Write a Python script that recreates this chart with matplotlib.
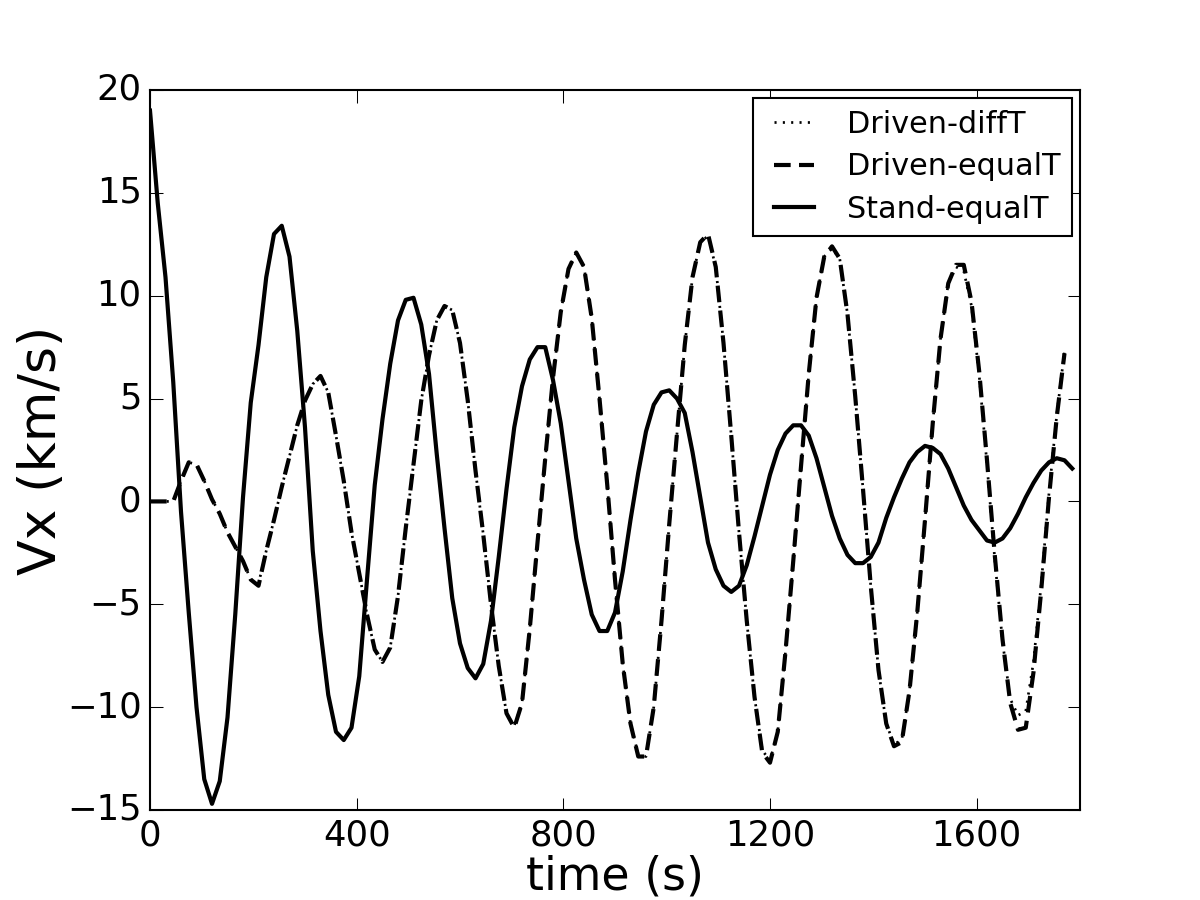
import numpy as np
import matplotlib
matplotlib.use("Agg")
import matplotlib.pyplot as plt

dt = 15.0  # sampling step of the runs (s)

# Stand-equalT, Vx (km/s), t = 0, 15, 30, ...
stand_equal = [
    19.0, 14.5, 10.9, 5.8, -0.5, -5.4, -10.0, -13.5, -14.7, -13.6,
    -10.5, -5.5, 0.2, 4.8, 7.6, 10.9, 13.0, 13.4, 11.9, 8.3,
    3.6, -2.4, -6.3, -9.4, -11.2, -11.6, -11.0, -8.5, -3.8, 0.8,
    4.0, 6.7, 8.8, 9.8, 9.9, 8.6, 6.2, 2.3, -1.3, -4.7,
    -6.9, -8.1, -8.6, -7.9, -5.8, -2.7, 0.6, 3.6, 5.6, 6.9,
    7.5, 7.5, 5.9, 3.8, 1.0, -1.8, -3.8, -5.5, -6.3, -6.3,
    -5.4, -3.4, -0.9, 1.4, 3.4, 4.7, 5.3, 5.4, 5.0, 4.3,
    2.4, 0.2, -2.0, -3.3, -4.1, -4.4, -4.1, -3.1, -1.7, -0.2,
    1.3, 2.5, 3.3, 3.7, 3.7, 3.2, 2.1, 0.7, -0.7, -1.8,
    -2.6, -3.0, -3.0, -2.7, -2.0, -0.8, 0.2, 1.1, 1.9, 2.4,
    2.7, 2.6, 2.3, 1.6, 0.7, -0.2, -0.9, -1.4, -1.9, -2.0,
    -1.8, -1.3, -0.6, 0.2, 0.9, 1.5, 1.9, 2.1, 2.0, 1.6,
]

# Driven-equalT
driven_equal = [
    0.0, 0.0, 0.0, 0.0, 1.0, 1.9, 1.8, 1.0, 0.1, -0.6,
    -1.5, -2.2, -2.9, -3.8, -4.1, -2.4, -0.9, 0.7, 2.2, 3.7,
    4.9, 5.7, 6.1, 5.3, 3.2, 1.0, -1.5, -3.5, -5.5, -7.2,
    -7.8, -7.1, -4.6, -1.3, 1.8, 4.9, 7.1, 8.8, 9.5, 9.3,
    7.7, 4.9, 1.5, -1.6, -5.0, -8.0, -10.3, -11.0, -9.8, -6.2,
    -2.0, 2.1, 6.0, 9.2, 11.3, 12.1, 11.4, 8.9, 5.0, 0.8,
    -3.8, -7.9, -10.8, -12.4, -12.4, -10.0, -5.8, -1.1, 3.3, 7.6,
    10.9, 12.6, 13.0, 11.4, 7.7, 3.2, -1.5, -5.8, -9.5, -12.2,
    -12.7, -11.2, -7.3, -2.9, 1.7, 6.2, 9.9, 11.9, 12.4, 11.8,
    9.1, 5.1, 0.6, -4.1, -8.2, -10.8, -11.9, -11.7, -9.2, -5.4,
    -0.9, 3.8, 7.9, 10.6, 11.5, 11.5, 9.7, 6.3, 2.0, -2.6,
    -6.7, -9.8, -11.1, -11.0, -8.3, -4.3, 0.2, 4.1, 7.2,
]

# Driven-diffT
driven_diff = [
    0.0, 0.0, 0.0, 0.0, 1.0, 1.9, 1.8, 1.0, 0.1, -0.6,
    -1.5, -2.2, -2.9, -3.8, -4.0, -2.4, -0.9, 0.7, 2.2, 3.7,
    4.9, 5.7, 6.1, 5.3, 3.2, 1.0, -1.5, -3.5, -5.5, -7.2,
    -7.8, -7.1, -4.6, -1.3, 1.8, 4.9, 7.1, 8.8, 9.5, 9.3,
    7.7, 4.9, 1.5, -1.6, -5.0, -8.0, -10.3, -10.9, -9.8, -6.2,
    -2.0, 2.1, 6.0, 9.2, 11.3, 12.1, 11.4, 8.9, 5.0, 0.8,
    -3.8, -7.9, -10.8, -12.3, -12.4, -10.0, -5.8, -1.1, 3.3, 7.6,
    10.9, 12.6, 12.9, 11.4, 7.7, 3.2, -1.5, -5.8, -9.5, -12.1,
    -12.6, -11.2, -7.3, -2.9, 1.7, 6.2, 9.9, 11.9, 12.3, 11.8,
    9.1, 5.1, 0.6, -4.1, -8.2, -10.8, -11.8, -11.6, -9.2, -5.4,
    -0.9, 3.8, 7.9, 10.6, 11.4, 11.2, 9.5, 6.1, 1.8, -2.8,
    -6.8, -9.6, -10.4, -10.2, -7.8, -4.0, 0.4, 4.2, 7.3,
]

t_stand = np.arange(len(stand_equal)) * dt
t_equal = np.arange(len(driven_equal)) * dt
t_diff = np.arange(len(driven_diff)) * dt

plt.style.use("classic")
plt.rcParams["lines.scale_dashes"] = False

fig = plt.figure(figsize=(8, 6), dpi=150, facecolor="white")
ax = fig.add_axes([0.125, 0.1, 0.775, 0.8])

ax.plot(t_diff, driven_diff, color="k", linestyle=(0, (1, 3)), lw=1.3, label="Driven-diffT")
ax.plot(t_equal, driven_equal, color="k", linestyle=(0, (8, 4)), lw=2, label="Driven-equalT")
ax.plot(t_stand, stand_equal, color="k", linestyle="-", lw=2, label="Stand-equalT")

ax.set_xlim(0, 1800)
ax.set_ylim(-15, 20)
ax.set_xticks([0, 400, 800, 1200, 1600])
ax.set_yticks(np.arange(-15, 21, 5))
ax.tick_params(labelsize=17, direction="in", length=6)
ax.set_xlabel("time (s)", fontsize=22, labelpad=1)
ax.set_ylabel("Vx (km/s)", fontsize=25, labelpad=0)

leg = ax.legend(loc="upper right", fontsize=14.5, handlelength=1.9, borderpad=0.4,
                labelspacing=0.45, borderaxespad=0.25)
leg.get_frame().set_edgecolor("k")

fig.savefig("out.png", dpi=150, facecolor="white")
